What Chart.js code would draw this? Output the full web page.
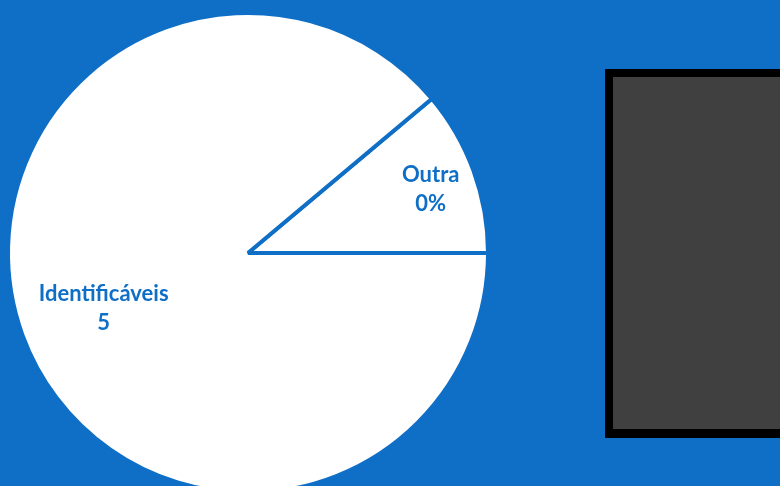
<!DOCTYPE html>
<html>
<head>
<meta charset="utf-8">
<script src="https://cdn.jsdelivr.net/npm/chart.js@4"></script>
<style>
  html, body { margin: 0; padding: 0; overflow: hidden; background: #0F6FC6; }
  #wrap { position: relative; width: 780px; height: 500px; }
</style>
</head>
<body>
<div id="wrap"><canvas id="grafico_pizza" width="780" height="500"></canvas></div>
<script>
// dados
var categorias = ['Outra', 'Identificáveis'];
var valores = [0.625, 5];
var rotulos = ['0%', '5'];

var azul = '#0F6FC6';

// escreve nome + valor dentro de cada fatia
var rotulosPlugin = {
    id: 'rotulos',
    afterDatasetsDraw: function (chart) {
        var ctx = chart.ctx;
        var arcos = chart.getDatasetMeta(0).data;
        var distancias = [0.81, 0.64];
        ctx.save();
        ctx.fillStyle = azul;
        ctx.font = 'bold 22px Lato';
        ctx.textAlign = 'center';
        ctx.textBaseline = 'middle';
        for (var i = 0; i < arcos.length; i++) {
            var a = arcos[i];
            var meio = (a.startAngle + a.endAngle) / 2;
            var d = a.outerRadius * distancias[i];
            var x = a.x + Math.cos(meio) * d;
            var y = a.y + Math.sin(meio) * d;
            ctx.fillText(categorias[i], x, y - 12);
            ctx.fillText(rotulos[i], x, y + 17);
        }
        ctx.restore();
    }
};

// caixa escura da direita (legenda cortada)
var caixaPlugin = {
    id: 'caixa',
    afterDraw: function (chart) {
        var ctx = chart.ctx;
        ctx.save();
        ctx.fillStyle = '#000000';
        ctx.fillRect(605, 69, 200, 369);
        ctx.fillStyle = '#404040';
        ctx.fillRect(613, 77, 200, 352);
        ctx.restore();
    }
};

var contexto = document.getElementById('grafico_pizza').getContext('2d');
var grafico = new Chart(contexto, {
    type: 'pie',
    data: {
        labels: categorias,
        datasets: [{
            data: valores,
            backgroundColor: ['#FFFFFF', '#FFFFFF'],
            borderColor: azul,
            borderWidth: 4
        }]
    },
    options: {
        responsive: false,
        animation: false,
        events: [],
        rotation: 50,
        layout: { padding: { left: 6, right: 290, top: 11, bottom: 5 } },
        plugins: {
            legend: { display: false },
            tooltip: { enabled: false }
        }
    },
    plugins: [rotulosPlugin, caixaPlugin]
});
</script>
</body>
</html>
